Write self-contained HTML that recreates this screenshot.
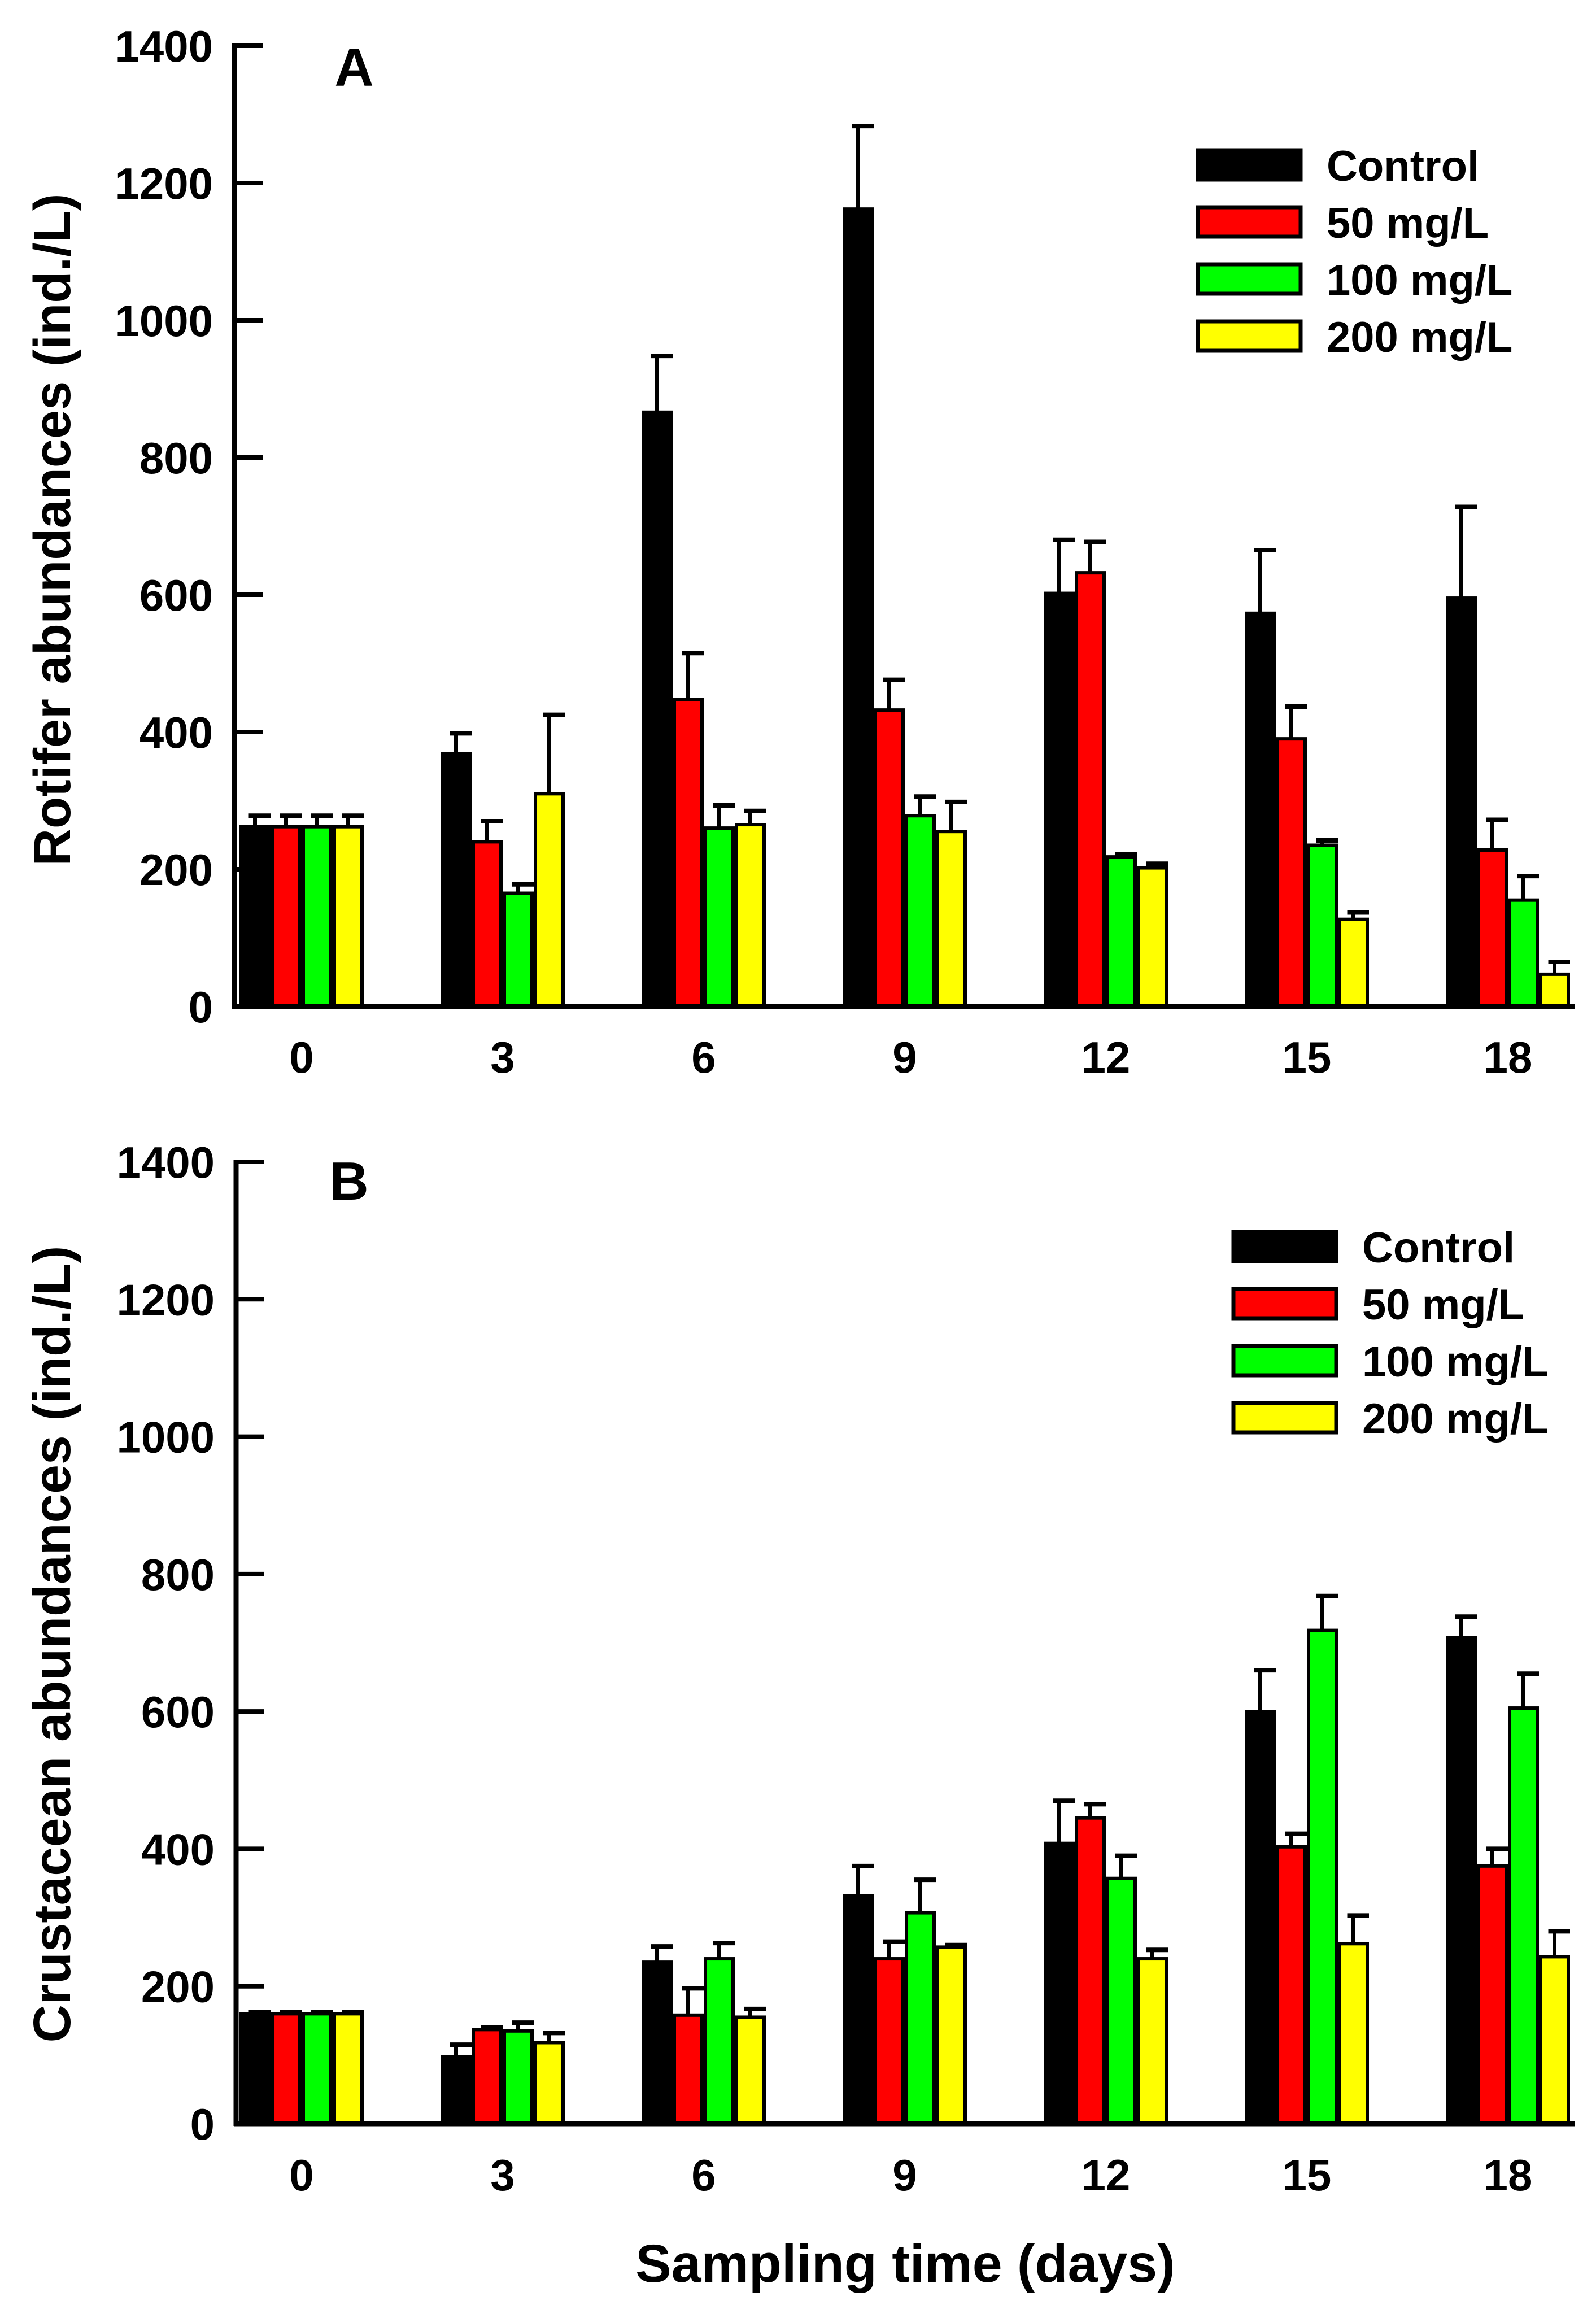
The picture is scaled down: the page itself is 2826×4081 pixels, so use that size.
<!DOCTYPE html>
<html><head><meta charset="utf-8"><style>
html,body{margin:0;padding:0;background:#fff;}
svg{display:block;font-family:"Liberation Sans",sans-serif;font-weight:bold;}
</style></head><body>
<svg id="chart" width="2826" height="4081" viewBox="0 0 2826 4081" xmlns="http://www.w3.org/2000/svg">
<rect width="2826" height="4081" fill="#fff"/>
</svg>
<script>
const days = ["0","3","6","9","12","15","18"];
const seriesNames = ["Control","50 mg/L","100 mg/L","200 mg/L"];
const colors = ["#000000","#ff0000","#00ff00","#ffff00"];
const yTicks = [0,200,400,600,800,1000,1200,1400];
// Panel A (rotifer) means and error-bar tops
const rotControl = [262,368,866,1162,602,573,595];
const rot50 = [262,240,447,432,632,390,228];
const rot100 = [262,165,260,278,218,235,155];
const rot200 = [262,310,265,255,202,127,47];
const rotControlErr = [278,398,948,1283,680,665,728];
const rot50Err = [278,270,515,476,677,437,272];
const rot100Err = [278,178,293,306,222,242,190];
const rot200Err = [278,425,285,298,208,137,65];
// Panel B (crustacean)
const cruControl = [160,97,235,332,408,600,707];
const cru50 = [160,137,158,240,445,403,375];
const cru100 = [160,135,240,307,357,718,605];
const cru200 = [160,118,155,257,240,262,243];
const cruControlErr = [162,115,258,375,470,660,738];
const cru50Err = [162,140,197,265,465,422,400];
const cru100Err = [162,147,263,355,390,768,655];
const cru200Err = [162,132,167,260,253,303,280];

const svg = document.getElementById('chart');
const NS = 'http://www.w3.org/2000/svg';
function mk(tag, attrs, parent){
  const e = document.createElementNS(NS, tag);
  for (const k in attrs) e.setAttribute(k, attrs[k]);
  (parent||svg).appendChild(e);
  return e;
}
function panel(cfg){
  const g = mk('g', {});
  
  
  const x0 = cfg.axisX, xEnd = 2788, yB = cfg.y0, yT = cfg.y1400;
  const yS = v => yB - (v/1400)*(yB-yT);
  const xC = i => 534 + i*356;
  const bw = 55;
  cfg.vals.forEach((arr, s) => {
    arr.forEach((v, i) => {
      const bx = xC(i) - 2*bw + s*bw;
      const top = yS(v), et = yS(cfg.errs[s][i]);
      const ln = mk('line', {x1:bx+bw*0.5, x2:bx+bw*0.5, y1:top, y2:et, stroke:'#000','stroke-width':7}, g);
      
      
      const cap = mk('line', {x1:bx+bw*0.3, x2:bx+bw, y1:et, y2:et, stroke:'#000','stroke-width':8}, g);
      
      
      const r = mk('rect', {x:bx+3, y:top, width:bw-6, height:yB-top, fill:colors[s], stroke:'#000','stroke-width':6}, g);
      
      
    });
  });
  const ya = mk('line', {x1:x0, x2:x0, y1:yT-4, y2:yB+4, stroke:'#000','stroke-width':9}, g);
  
  
  const xa = mk('line', {x1:x0-4, x2:xEnd, y1:yB, y2:yB, stroke:'#000','stroke-width':9}, g);
  
  
  yTicks.forEach(t => {
    const y = yS(t);
    if (t>0) {
      const tk = mk('line', {x1:x0, x2:x0+50, y1:y, y2:y, stroke:'#000','stroke-width':8}, g);
      
      
    }
    const tl = mk('text', {x:x0-38, y:y+28, 'text-anchor':'end','font-size':78}, g);
    tl.textContent = t;
    
    
  });
  days.forEach((d, i) => {
    const tl = mk('text', {x:xC(i), y:cfg.xLabY, 'text-anchor':'middle','font-size':78}, g);
    tl.textContent = d;
    
    
  });
  const yt = mk('text', {x:0, y:0, 'text-anchor':'middle','font-size':cfg.ytSize, transform:'translate(124,'+cfg.titleY+') rotate(-90)'}, g);
  yt.textContent = cfg.ytitle;
  
  
  const pl = mk('text', {x:cfg.letterX, y:cfg.letterY, 'text-anchor':'middle','font-size':96}, g);
  pl.textContent = cfg.letter;
  
  
  seriesNames.forEach((n, s) => {
    const cy = cfg.legY + s*101;
    const sw = mk('rect', {x:cfg.legX, y:cy-26, width:182, height:52, fill:colors[s], stroke:'#000','stroke-width':7}, g);
    
    
    const lt = mk('text', {x:cfg.legX+228, y:cy+28, 'font-size':76}, g);
    lt.textContent = n;
    
    
  });
}
panel({name:'panel-a', key:'a', axisX:415, y0:1782, y1400:81, vals:[rotControl,rot50,rot100,rot200], errs:[rotControlErr,rot50Err,rot100Err,rot200Err], xLabY:1899, ytitle:'Rotifer abundances (ind./L)', ytSize:92, titleY:938, letter:'A', letterX:627, letterY:152, legX:2121, legY:292});
panel({name:'panel-b', key:'b', axisX:418, y0:3760, y1400:2057, vals:[cruControl,cru50,cru100,cru200], errs:[cruControlErr,cru50Err,cru100Err,cru200Err], xLabY:3878, ytitle:'Crustacean abundances (ind./L)', ytSize:93, titleY:2911, letter:'B', letterX:618, letterY:2124, legX:2184, legY:2207});
const xt = mk('text', {x:1603, y:4040, 'text-anchor':'middle','font-size':95});
xt.textContent = 'Sampling time (days)';


</script>
</body></html>
